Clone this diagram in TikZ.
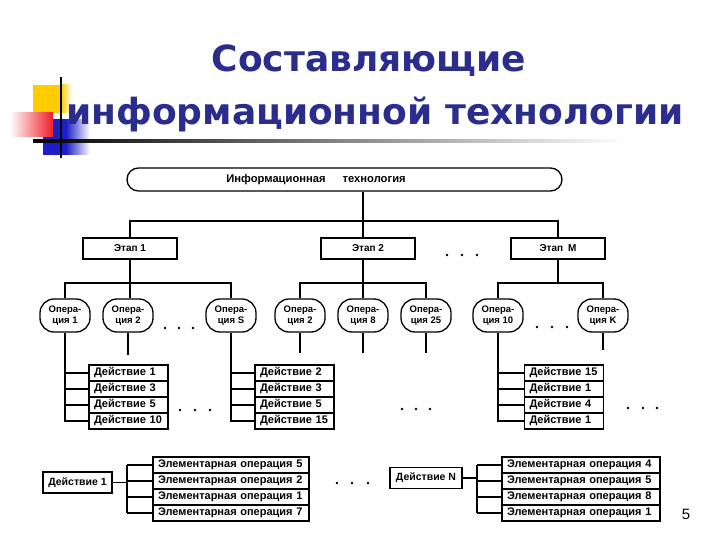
\documentclass[tikz,border=0pt]{standalone}
\usepackage{fontspec}
\setmainfont{Liberation Sans}
\newfontfamily\titlefont{DejaVu Sans}
\usetikzlibrary{shapes.misc,calc}
\definecolor{titleblue}{RGB}{43,45,140}
\definecolor{decoyellow}{RGB}{255,204,0}
\definecolor{decored}{RGB}{240,30,40}
\definecolor{decoblue}{RGB}{30,30,200}
\begin{document}
\begin{tikzpicture}[x=1pt,y=-1pt,
  ln/.style={line width=1.2pt},
  ttl/.style={font=\titlefont\bfseries\fontsize{36}{40}\selectfont,text=titleblue,inner sep=0pt,anchor=base},
  stagebox/.style={draw,line width=1.3pt,minimum width=94pt,minimum height=21pt,inner sep=0pt,font=\bfseries\fontsize{10}{12}\selectfont},
  opbox/.style={draw,line width=1.3pt,rounded corners=14pt,minimum width=50pt,minimum height=33pt,inner sep=0pt,align=center,font=\bfseries\fontsize{9.5}{11.5}\selectfont},
  actrow/.style={draw,line width=1.3pt,text width=69pt,inner xsep=5pt,inner ysep=0pt,minimum height=16pt,align=left,font=\bfseries\fontsize{11}{12}\selectfont},
  elrow/.style={draw,line width=1.3pt,text width=146pt,inner xsep=5pt,inner ysep=0pt,minimum height=16pt,align=left,font=\bfseries\fontsize{11}{12}\selectfont},
  actbox/.style={draw,line width=1.3pt,minimum height=21pt,inner sep=0pt,font=\bfseries\fontsize{10.5}{12}\selectfont},
  dot/.style={fill=black}
]
\useasboundingbox (0,0) rectangle (720,540);
% decoration
\fill[decoyellow] (33,85) rectangle (61,113);
\shade[left color=decoyellow,right color=white] (61,85) rectangle (72,113);
\shade[left color=decoblue,right color=decoblue] (43,120) rectangle (66,155);
\shade[left color=decoblue,right color=white] (66,120) rectangle (90,155);
\shade[left color=white,right color=decored] (10,113) rectangle (53,137);
\shade[left color=black,right color=white] (33,140) rectangle (625,142.5);
\draw[line width=2pt] (61,77) -- (61,158);
% title
\node[ttl] (t1) at (369,72) {Составляющие};
\node[ttl] (t2) at (375,125) {информационной технологии};
% top node
\node[draw,line width=1.3pt,rounded rectangle,minimum width=435pt,minimum height=23pt,inner sep=0pt] (it) at (344.5,179.5) {};
\node[font=\bfseries\fontsize{11.2}{12}\selectfont,inner sep=0pt] (itt) at (316,180) {Информационная\hspace{17pt}технология};
% stages
\node[stagebox] (s1) at (130,248.5) {Этап 1};
\node[stagebox] (s2) at (368,248.5) {Этап 2};
\node[stagebox] (sM) at (558,248.5) {Этап\hspace{5pt}M};
\coordinate (tj) at (363,221);
\draw[ln] (tj |- it.south) -- (tj);
\draw[ln] (s1.north) |- (tj) -| (sM.north);
\draw[ln] (tj) -- (tj |- s2.north);
% operations
\node[opbox] (op1) at (65,315.5) {Опера-\\ция 1};
\node[opbox] (op2) at (128,315.5) {Опера-\\ция 2};
\node[opbox] (opS) at (231,315.5) {Опера-\\ция S};
\node[opbox] (op2b) at (300,315.5) {Опера-\\ция 2};
\node[opbox] (op8) at (363,315.5) {Опера-\\ция 8};
\node[opbox] (op25) at (426,315.5) {Опера-\\ция 25};
\node[opbox] (op10) at (498,315.5) {Опера-\\ция 10};
\node[opbox] (opK) at (603,315.5) {Опера-\\ция K};
\coordinate (j1) at (130,283);
\coordinate (j2) at (363,283);
\coordinate (j3) at (558,283);
\draw[ln] (s1.south) -- (j1);
\draw[ln] (op1.north) |- (j1) -| (opS.north);
\draw[ln] (j1) -- (j1 |- op2.north);
\draw[ln] (j2 |- s2.south) -- (j2);
\draw[ln] (op2b.north) |- (j2) -| (op25.north);
\draw[ln] (j2) -- (op8.north);
\draw[ln] (sM.south) -- (j3);
\draw[ln] (op10.north) |- (j3) -| (opK.north);
% action lists
\foreach \t [count=\i] in {Действие 1,Действие 3,Действие 5,Действие 10}
  \node[actrow] (A\i) at (128.5,{357+16*\i}) {\t};
\foreach \t [count=\i] in {Действие 2,Действие 3,Действие 5,Действие 15}
  \node[actrow] (B\i) at (294.5,{357+16*\i}) {\t};
\foreach \t [count=\i] in {Действие 15,Действие 1,Действие 4,Действие 1}
  \node[actrow] (C\i) at (564,{357+16*\i}) {\t};
\draw[ln] (op1.south) |- (A4.west);
\draw[ln] (opS.south) |- (B4.west);
\draw[ln] (op10.south) |- (C4.west);
\foreach \i in {1,2,3} {
  \draw[ln] (op1.south |- A\i.west) -- (A\i.west);
  \draw[ln] (opS.south |- B\i.west) -- (B\i.west);
  \draw[ln] (op10.south |- C\i.west) -- (C\i.west);
}
\coordinate (st2) at (128,355);
\coordinate (st2b) at (300,353);
\coordinate (st8) at (363,353);
\coordinate (st25) at (426,353);
\coordinate (stK) at (603,350);
\draw[ln] (op2.south) -- (st2);
\draw[ln] (op2b.south) -- (st2b);
\draw[ln] (op8.south) -- (st8);
\draw[ln] (op25.south) -- (st25);
\draw[ln] (opK.south) -- (stK);
% bottom
\node[actbox,minimum width=69pt] (d1) at (77.5,482.5) {Действие 1};
\node[actbox,minimum width=72pt] (dN) at (426,478) {Действие N};
\foreach \t [count=\i] in {Элементарная операция 5,Элементарная операция 2,Элементарная операция 1,Элементарная операция 7}
  \node[elrow] (E\i) at (231,{449+16*\i}) {\t};
\foreach \t [count=\i] in {Элементарная операция 4,Элементарная операция 5,Элементарная операция 8,Элементарная операция 1}
  \node[elrow,text width=148pt] (F\i) at (581,{449+16*\i}) {\t};
\coordinate (k1) at (127,482.5);
\coordinate (k2) at (477,478);
\draw[ln] (d1.east) -- (k1);
\draw[ln] (dN.east) -- (k2);
\draw[ln] (E1.west -| k1) -- (E4.west -| k1);
\draw[ln] (F1.west -| k2) -- (F4.west -| k2);
\foreach \i in {1,2,3,4} {
  \draw[ln] (E\i.west -| k1) -- (E\i.west);
  \draw[ln] (F\i.west -| k2) -- (F\i.west);
}
% dots
\foreach \x/\y in {447/255,462/255,477/255,
  165/328,179/328,193/328, 537/327,552/327,567/327,
  180/410,195/410,210/410, 402/409,416/409,430/409, 628/408,643/408,657/408,
  337/483,352/483,368/483}
  \fill[dot] (\x,\y) circle (1.4);
% page number
\node[font=\fontsize{15}{17}\selectfont,inner sep=0pt] (pg) at (686,514) {5};
\end{tikzpicture}
\end{document}
